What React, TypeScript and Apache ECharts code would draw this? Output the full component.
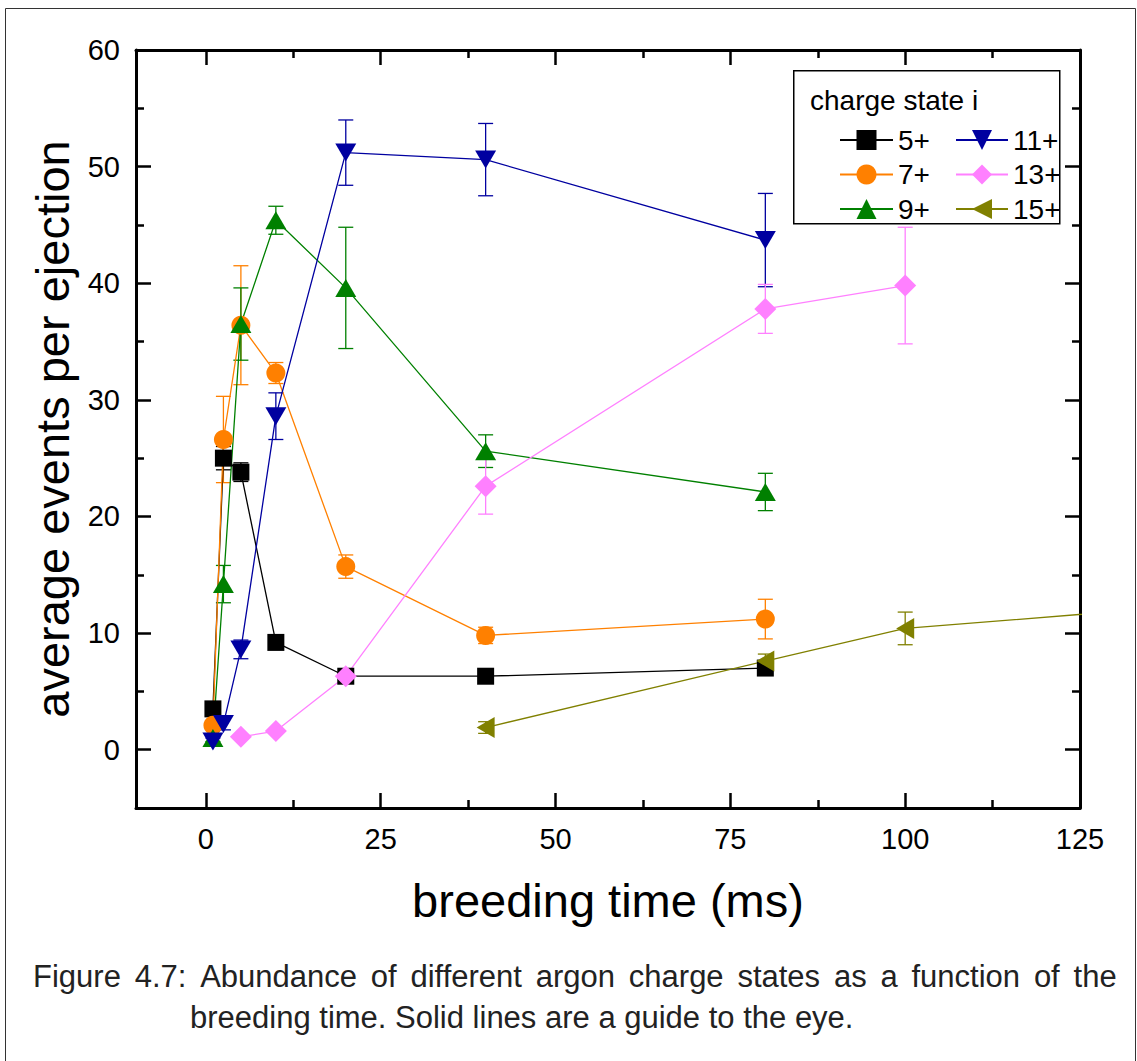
import React, { useEffect, useRef } from 'react';
import * as echarts from 'echarts';

const FONT = '"Liberation Sans", Arial, sans-serif';

// x tick labels / minor positions
const xMajor = [0, 25, 50, 75, 100, 125];
const xMinor = [12.5, 37.5, 62.5, 87.5, 112.5];
const yMajor = [0, 10, 20, 30, 40, 50, 60];
const yMinor = [5, 15, 25, 35, 45, 55];

// data
const t5 = [1, 2.5, 5, 10, 20, 40, 80];
const v5 = [3.5, 25.0, 23.8, 9.2, 6.3, 6.3, 7.0];
const e5 = [0.3, 1.0, 0.8, 0.3, 0.3, 0.3, 0.3];

const t7 = [1, 2.5, 5, 10, 20, 40, 80];
const v7 = [2.1, 26.6, 36.4, 32.3, 15.7, 9.8, 11.2];
const e7 = [0.3, 3.7, 5.1, 0.9, 1.0, 0.7, 1.7];

const t9 = [1, 2.5, 5, 10, 20, 40, 80];
const v9 = [1.0, 14.2, 36.5, 45.4, 39.6, 25.6, 22.1];
const e9 = [0.3, 1.6, 3.1, 1.2, 5.2, 1.4, 1.6];

const t11 = [1, 2.5, 5, 10, 20, 40, 80];
const v11 = [0.7, 2.2, 8.6, 28.6, 51.2, 50.6, 43.7];
const e11 = [0.3, 0.5, 0.8, 2.0, 2.8, 3.1, 4.0];

const t13 = [5, 10, 20, 40, 80, 100];
const v13 = [1.1, 1.6, 6.3, 22.6, 37.8, 39.8];
const e13 = [0.2, 0.2, 0.3, 2.4, 2.1, 5.0];

const t15 = [40, 80, 100, 150];
const v15 = [1.9, 7.6, 10.4, 12.8];
const e15 = [0.5, 0.6, 1.4, 0];

const caption1 = ['Figure', '4.7:', 'Abundance', 'of', 'different', 'argon', 'charge', 'states', 'as', 'a', 'function', 'of', 'the'];
const caption2 = 'breeding time. Solid lines are a guide to the eye.';

const seriesDefs = [
  { name: '5+', t: t5, v: v5, e: e5, color: '#000000', symbol: 'rect', size: 17, rotate: 0 },
  { name: '7+', t: t7, v: v7, e: e7, color: '#FF8000', symbol: 'circle', size: 19, rotate: 0 },
  { name: '9+', t: t9, v: v9, e: e9, color: '#008000', symbol: 'triangle', size: [21, 18], rotate: 0 },
  { name: '11+', t: t11, v: v11, e: e11, color: '#0000A0', symbol: 'triangle', size: [21, 18], rotate: 180 },
  { name: '13+', t: t13, v: v13, e: e13, color: '#FF80FF', symbol: 'diamond', size: 22, rotate: 0 },
  { name: '15+', t: t15, v: v15, e: e15, color: '#808000', symbol: 'triangle', size: [21, 18], rotate: 90 },
];

function buildOption() {
  const series: any[] = [];
  seriesDefs.forEach((s) => {
    const color = s.color;
    series.push({
      type: 'custom',
      name: s.name + ' err',
      xAxisIndex: 0,
      yAxisIndex: 0,
      clip: true,
      silent: true,
      data: s.t.map((t, i) => [t, s.v[i], s.e[i]]),
      encode: { x: 0, y: 1 },
      renderItem: (params: any, api: any) => {
        const x = api.value(0);
        const y = api.value(1);
        const e = api.value(2);
        if (!e || x > 125) return null;
        const hi = api.coord([x, y + e]);
        const lo = api.coord([x, y - e]);
        const hw = 7.5;
        const st = { stroke: color, lineWidth: 1.3 };
        return {
          type: 'group',
          children: [
            { type: 'line', shape: { x1: hi[0], y1: hi[1], x2: lo[0], y2: lo[1] }, style: st },
            { type: 'line', shape: { x1: hi[0] - hw, y1: hi[1], x2: hi[0] + hw, y2: hi[1] }, style: st },
            { type: 'line', shape: { x1: lo[0] - hw, y1: lo[1], x2: lo[0] + hw, y2: lo[1] }, style: st },
          ],
        };
      },
    });
    series.push({
      type: 'line',
      name: s.name,
      xAxisIndex: 0,
      yAxisIndex: 0,
      data: s.t.map((t, i) => [t, s.v[i]]),
      symbol: s.symbol,
      symbolSize: s.size,
      symbolRotate: s.rotate,
      showAllSymbol: true,
      clip: true,
      color,
      itemStyle: { color },
      lineStyle: { color, width: 1.3 },
      emphasis: { disabled: true },
    });
  });

  const axisCommonX = {
    type: 'value',
    min: -10,
    max: 125,
    gridIndex: 0,
    splitLine: { show: false },
  };
  const axisCommonY = {
    type: 'value',
    min: -5,
    max: 60,
    gridIndex: 0,
    splitLine: { show: false },
  };
  const lineSt = { show: true, onZero: false, lineStyle: { color: '#000', width: 3 } };
  const noLine = { show: false, onZero: false };
  const tickMajor = (vals: number[]) => ({ show: true, inside: true, length: 15, customValues: vals, lineStyle: { color: '#000', width: 2.5 } });
  const tickMinor = (vals: number[]) => ({ show: true, inside: true, length: 8, customValues: vals, lineStyle: { color: '#000', width: 2.5 } });

  const legendCommon = {
    orient: 'vertical',
    top: 121,
    itemHeight: 25,
    itemGap: 6.5,
    selectedMode: false,
    textStyle: { fontSize: 28, color: '#000', fontFamily: FONT, lineHeight: 25 },
  };

  return {
    animation: false,
    backgroundColor: '#ffffff',
    grid: { left: 136, right: 57, top: 50, bottom: 253, containLabel: false },
    xAxis: [
      {
        ...axisCommonX,
        position: 'bottom',
        axisLine: lineSt,
        axisTick: tickMajor(xMajor),
        axisLabel: { customValues: xMajor, fontSize: 29, color: '#000', margin: 16, fontFamily: FONT },
        name: 'breeding time (ms)',
        nameLocation: 'middle',
        nameGap: 69,
        nameTextStyle: { fontSize: 47, color: '#000', fontFamily: FONT },
      },
      { ...axisCommonX, position: 'bottom', axisLine: noLine, axisTick: tickMinor(xMinor), axisLabel: { show: false } },
      { ...axisCommonX, position: 'top', axisLine: lineSt, axisTick: tickMajor(xMajor), axisLabel: { show: false } },
      { ...axisCommonX, position: 'top', axisLine: noLine, axisTick: tickMinor(xMinor), axisLabel: { show: false } },
    ],
    yAxis: [
      {
        ...axisCommonY,
        position: 'left',
        axisLine: lineSt,
        axisTick: tickMajor(yMajor),
        axisLabel: { customValues: yMajor, fontSize: 29, color: '#000', margin: 16, fontFamily: FONT },
        name: 'average events per ejection',
        nameLocation: 'middle',
        nameGap: 60,
        nameTextStyle: { fontSize: 47, color: '#000', fontFamily: FONT },
      },
      { ...axisCommonY, position: 'left', axisLine: noLine, axisTick: tickMinor(yMinor), axisLabel: { show: false } },
      { ...axisCommonY, position: 'right', axisLine: lineSt, axisTick: tickMajor(yMajor), axisLabel: { show: false } },
      { ...axisCommonY, position: 'right', axisLine: noLine, axisTick: tickMinor(yMinor), axisLabel: { show: false } },
    ],
    legend: [
      { ...legendCommon, data: ['5+', '7+', '9+'], left: 834, itemWidth: 53 },
      { ...legendCommon, data: ['11+', '13+', '15+'], left: 950, itemWidth: 52 },
    ],
    graphic: [
      { type: 'rect', left: 3, top: 6, shape: { width: 1130, height: 1070 }, style: { fill: 'none', stroke: '#333', lineWidth: 1 }, silent: true },
      { type: 'rect', left: 793, top: 70, shape: { width: 266, height: 153 }, style: { fill: '#fff', stroke: '#000', lineWidth: 1.5 }, z: 3 },
      { type: 'text', left: 810, top: 86, style: { text: 'charge state i', fontSize: 28, fill: '#000', fontFamily: FONT }, z: 4 },
      {
        type: 'text',
        left: 33,
        top: 961,
        style: {
          text: caption1.join('{g| }'),
          fontSize: 31,
          fill: '#222',
          fontFamily: FONT,
          rich: { g: { width: 13.8, fontSize: 31, fontFamily: FONT } },
        },
      },
      { type: 'text', left: 190, top: 1002, style: { text: caption2, fontSize: 31, fill: '#222', fontFamily: FONT } },
    ],
    series,
  };
}

export default function App() {
  const ref = useRef<HTMLDivElement>(null);
  useEffect(() => {
    const chart = echarts.init(ref.current!, null, { renderer: 'svg' });
    chart.setOption(buildOption() as any);
    return () => chart.dispose();
  }, []);
  return (
    <div
      ref={ref}
      style={{ position: 'fixed', left: 0, top: 0, width: 1137, height: 1061, background: '#fff' }}
    />
  );
}
